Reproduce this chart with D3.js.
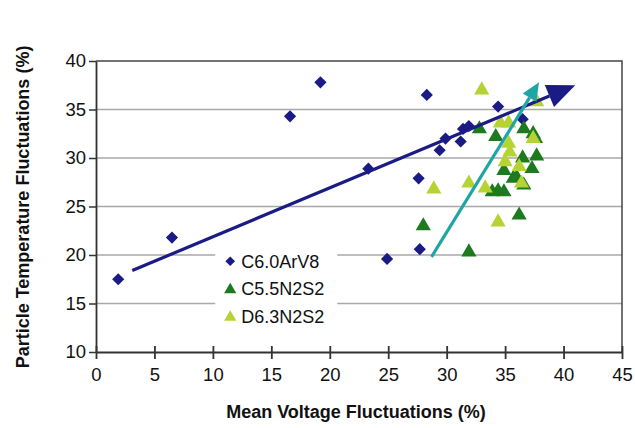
<!DOCTYPE html>
<html>
<head>
<meta charset="utf-8">
<script src="https://cdn.jsdelivr.net/npm/d3@7"></script>
<style>
  body { margin: 0; background: #fff; }
  text { font-family: "Liberation Sans", Arial, sans-serif; }
</style>
</head>
<body>
<svg id="chart"></svg>
<script>
const seriesNames = ['C6.0ArV8', 'C5.5N2S2', 'D6.3N2S2'];

const arvX = [1.9, 6.5, 16.6, 19.2, 23.3, 24.9, 27.6, 27.7, 28.3, 29.4, 29.9, 31.2, 31.4, 31.9, 34.4, 36.5];
const arvY = [17.5, 21.8, 34.3, 37.8, 28.9, 19.6, 27.9, 20.6, 36.5, 30.8, 32.0, 31.7, 33.0, 33.3, 35.3, 34.0];

const c55X = [28.0, 31.9, 32.8, 34.2, 36.6, 37.4, 37.6, 34.9, 36.5, 37.7, 37.3, 36.0, 35.7, 36.6, 33.9, 34.4, 34.9, 36.2];
const c55Y = [23.0, 20.3, 33.0, 32.2, 33.0, 32.5, 32.0, 28.7, 30.0, 30.2, 28.9, 28.0, 27.9, 27.2, 26.5, 26.6, 26.5, 24.1];

const d63X = [33.0, 37.7, 34.6, 35.3, 35.3, 35.4, 35.0, 36.2, 36.4, 37.4, 33.3, 31.9, 28.9, 34.4];
const d63Y = [37.0, 35.8, 33.6, 33.6, 31.5, 30.6, 29.6, 29.1, 27.4, 32.0, 26.9, 27.4, 26.8, 23.4];

// trend arrows: [x0, y0, x1, y1]
const arvArrow = [3.1, 18.4, 41.0, 37.5];
const n2Arrow = [28.7, 19.8, 37.9, 37.8];

const xTicks = [0, 5, 10, 15, 20, 25, 30, 35, 40, 45];
const yTicks = [10, 15, 20, 25, 30, 35, 40];

const svgWidth = 635;
const svgHeight = 428;
const margin = { top: 61, right: 13, bottom: 76, left: 96 };
const width = svgWidth - margin.left - margin.right;
const height = svgHeight - margin.top - margin.bottom;

const svg = d3.select('#chart')
  .attr('width', svgWidth)
  .attr('height', svgHeight);

const g = svg.append('g').attr('transform', `translate(${margin.left},${margin.top})`);

const x = d3.scaleLinear().domain([0, 45]).range([0, width]);
const y = d3.scaleLinear().domain([10, 40]).range([height, 0]);

const colors = ['#1b1b85', '#1d7a1f', '#b5d334'];

// gridlines
g.append('g')
  .selectAll('line')
  .data(yTicks.filter(d => d > 10 && d < 40))
  .enter()
  .append('line')
  .attr('x1', 0)
  .attr('x2', width)
  .attr('y1', d => y(d))
  .attr('y2', d => y(d))
  .attr('stroke', '#a8a8a8')
  .attr('stroke-width', 1.5);

// frame top/right
g.append('path')
  .attr('d', `M0,${y(40)}H${x(45)}V${y(10)}`)
  .attr('fill', 'none')
  .attr('stroke', '#444')
  .attr('stroke-width', 1.5);

// x-axis
const xAxis = g.append('g')
  .attr('transform', `translate(0,${height})`)
  .call(d3.axisBottom(x).tickValues(xTicks).tickSize(7).tickPadding(9).tickSizeOuter(0));
xAxis.selectAll('.tick line').attr('y1', -6).attr('stroke', '#333').attr('stroke-width', 1.8);
xAxis.select('.domain').attr('stroke', '#333').attr('stroke-width', 1.8);
xAxis.selectAll('text').attr('font-size', 18.5).attr('fill', '#111');

// y-axis
const yAxis = g.append('g')
  .call(d3.axisLeft(y).tickValues(yTicks).tickSize(7).tickPadding(3).tickSizeOuter(0));
yAxis.selectAll('.tick line').attr('stroke', '#333').attr('stroke-width', 1.5);
yAxis.select('.domain').attr('stroke', '#333').attr('stroke-width', 1.8);
yAxis.selectAll('text').attr('font-size', 18.5).attr('fill', '#111');

// legend (white box)
const legend = g.append('g').attr('transform', `translate(${x(10.2)},${y(20.8)})`);
legend.append('rect')
  .attr('width', 122)
  .attr('height', 84)
  .attr('fill', '#fff');

const diamond = d3.symbol().type(d3.symbolDiamond2).size(95);
const triangle = d3.symbol().type(d3.symbolTriangle).size(100);

legend.selectAll('g')
  .data(seriesNames)
  .enter()
  .append('g')
  .attr('transform', (d, i) => `translate(0,${14 + 27.5 * i})`)
  .each(function (d, i) {
    const row = d3.select(this);
    row.append('path')
      .attr('transform', `translate(15,${i === 0 ? 0 : 1})`)
      .attr('d', i === 0 ? d3.symbol().type(d3.symbolDiamond2).size(60)() : d3.symbol().type(d3.symbolTriangle).size(65)())
      .attr('fill', colors[i]);
    row.append('text')
      .attr('x', 26)
      .attr('dy', '0.36em')
      .attr('font-size', 18)
      .attr('fill', '#111')
      .text(d);
  });

// points
const series = [
  { xs: arvX, ys: arvY, shape: diamond, color: colors[0] },
  { xs: c55X, ys: c55Y, shape: triangle, color: colors[1] },
  { xs: d63X, ys: d63Y, shape: triangle, color: colors[2] },
];

series.forEach(s => {
  g.append('g')
    .selectAll('path')
    .data(s.xs.map((v, i) => [v, s.ys[i]]))
    .enter()
    .append('path')
    .attr('transform', d => `translate(${x(d[0])},${y(d[1])})`)
    .attr('d', s.shape())
    .attr('fill', s.color);
});

// arrows
function drawArrow(a, color, w, headLen, headW) {
  const x0 = x(a[0]); const y0 = y(a[1]);
  const x1 = x(a[2]); const y1 = y(a[3]);
  const ang = Math.atan2(y1 - y0, x1 - x0);
  const bx = x1 - headLen * Math.cos(ang);
  const by = y1 - headLen * Math.sin(ang);
  g.append('line')
    .attr('x1', x0).attr('y1', y0)
    .attr('x2', bx).attr('y2', by)
    .attr('stroke', color)
    .attr('stroke-width', w);
  const px = Math.sin(ang) * headW / 2;
  const py = -Math.cos(ang) * headW / 2;
  g.append('path')
    .attr('d', `M${x1},${y1}L${bx + px},${by + py}L${bx - px},${by - py}Z`)
    .attr('fill', color);
}

drawArrow(arvArrow, '#1b1b85', 3.2, 28, 24);
drawArrow(n2Arrow, '#1fa5a5', 3.2, 18, 16);

// axis titles
svg.append('text')
  .attr('x', margin.left + width / 2 - 3)
  .attr('y', 418)
  .attr('text-anchor', 'middle')
  .attr('font-size', 18)
  .attr('font-weight', 'bold')
  .attr('fill', '#111')
  .text('Mean Voltage Fluctuations (%)');

svg.append('text')
  .attr('transform', 'translate(29,207) rotate(-90)')
  .attr('text-anchor', 'middle')
  .attr('font-size', 18)
  .attr('font-weight', 'bold')
  .attr('fill', '#111')
  .text('Particle Temperature Fluctuations (%)');
</script>
</body>
</html>
